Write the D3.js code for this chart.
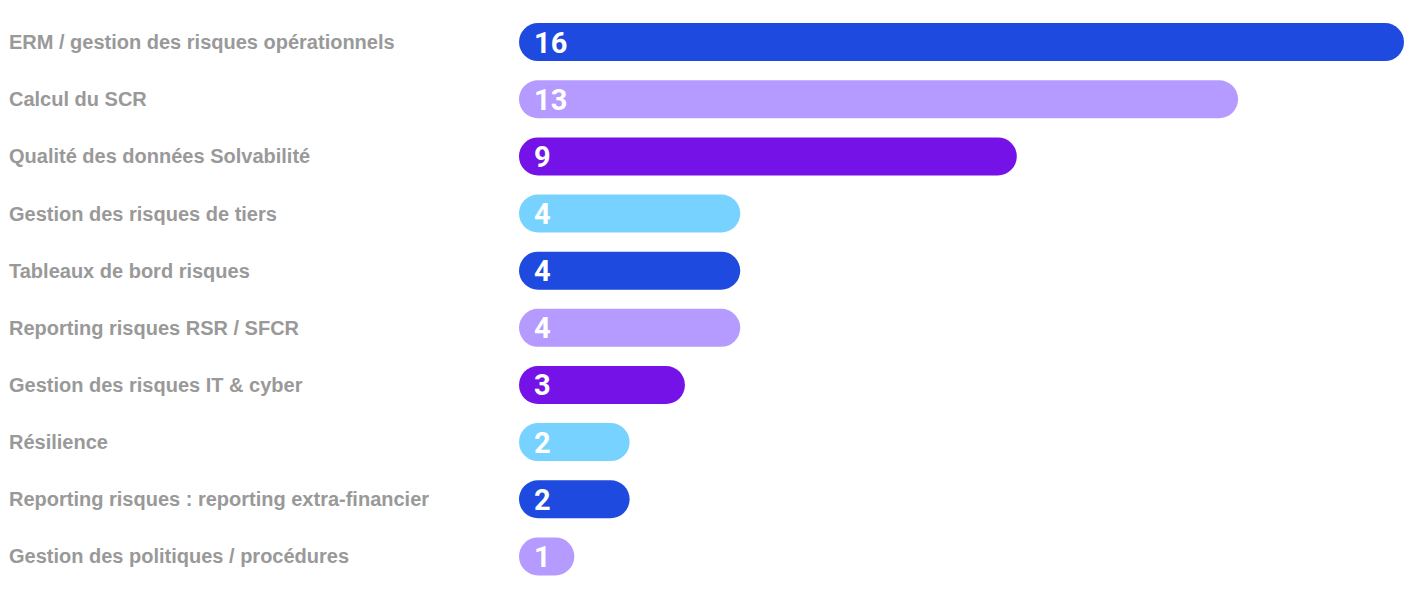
<!DOCTYPE html>
<html><head><meta charset="utf-8">
<script src="https://cdn.jsdelivr.net/npm/d3@7"></script>
<style>html,body{margin:0;padding:0;background:#fff;}</style>
</head><body>
<svg id="chart" width="1420" height="590"></svg>
<script>
const categories = ["ERM / gestion des risques opérationnels","Calcul du SCR","Qualité des données Solvabilité","Gestion des risques de tiers","Tableaux de bord risques","Reporting risques RSR / SFCR","Gestion des risques IT & cyber","Résilience","Reporting risques : reporting extra-financier","Gestion des politiques / procédures"];
const values = [16,13,9,4,4,4,3,2,2,1];
const palette = ["#1f4ae0","#b59aff","#7412e8","#78d2ff"];

const svg = d3.select("#chart");
const x = d3.scaleLinear().domain([0,16]).range([519,1404]);
const y = d3.scaleBand().domain(categories).range([13.5,585]).paddingInner(0.335).paddingOuter(0.168);

const g = svg.selectAll("g.row").data(categories).join("g").attr("class","row");
g.append("text").attr("x",9).attr("y",d=>y(d)+y.bandwidth()/2).attr("dy","0.35em")
  .attr("font-family","Liberation Sans, Arial, sans-serif").attr("font-weight","bold")
  .attr("font-size",20).attr("fill","#999999").text(d=>d);
g.append("rect").attr("x",x(0)).attr("y",d=>y(d)).attr("height",y.bandwidth())
  .attr("width",(d,i)=>x(values[i])-x(0)).attr("rx",y.bandwidth()/2)
  .attr("fill",(d,i)=>palette[i%4]);
g.append("text").attr("x",x(0)+15).attr("y",d=>y(d)+y.bandwidth()/2).attr("dy","0.36em")
  .attr("font-family","Roboto, Arial, sans-serif").attr("font-weight","bold")
  .attr("font-size",29).attr("fill","#fff").text((d,i)=>values[i]);
</script>
</body></html>
